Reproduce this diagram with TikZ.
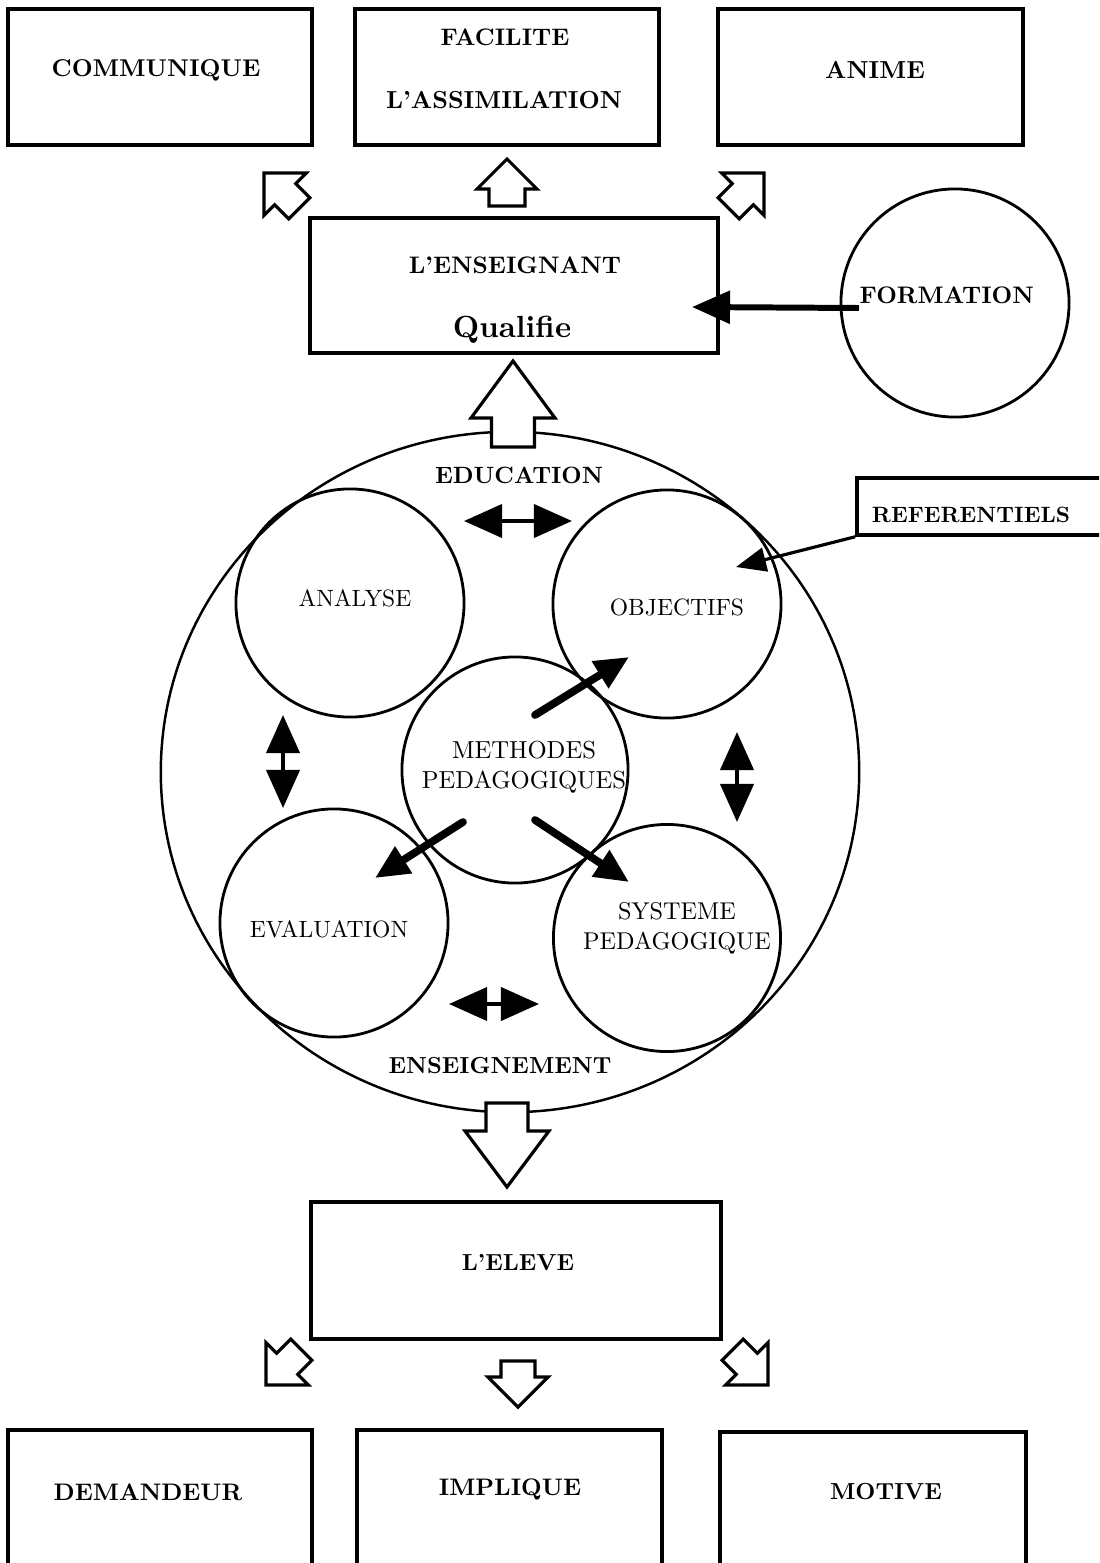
\documentclass[tikz,border=0pt]{standalone}
\usepackage{fontspec}
\setmainfont{lmroman10-regular.otf}[BoldFont=lmroman10-bold.otf]
\usetikzlibrary{arrows.meta,shapes.geometric}
\newcommand\fsz[1]{\fontsize{#1}{8.5pt}\selectfont}
\begin{document}
\begin{tikzpicture}[x=0.01cm,y=-0.01cm,
  box/.style={draw,line width=1pt,rectangle,inner sep=0pt},
  circ/.style={draw,line width=0.8pt,circle,inner sep=0pt},
  lblb/.style={font=\bfseries\fsz{6.8pt},inner sep=0pt},
  lblr/.style={font=\fsz{6.7pt},inner sep=0pt,align=center},
  dblarr/.style={line width=1.1pt,{Triangle[length=0.38cm,width=0.33cm]}-{Triangle[length=0.38cm,width=0.33cm]}},
  diagarr/.style={line width=2.2pt,line cap=round,-{Triangle[length=0.34cm,width=0.30cm]}},
  pics/blk/.style n args={4}{code={\draw[line width=0.9pt,fill=white,line join=miter]
     (0,0) -- (-#1,#2) -- (-#1,#3) -- ({-#1-#4},#3) -- ({-#1-#4},-#3) -- (-#1,-#3) -- (-#1,-#2) -- cycle;}}
]
\useasboundingbox (0,0) rectangle (1099,1563);
\fill[white] (0,0) rectangle (1099,1563);
\clip (0,0) rectangle (1099,1563);

% top boxes
\node[box,minimum width=3.04cm,minimum height=1.36cm] (bcom) at (160,77) {};
\node[box,minimum width=3.04cm,minimum height=1.36cm] (bfac) at (507,77) {};
\node[box,minimum width=3.05cm,minimum height=1.36cm] (bani) at (870.5,77) {};
\node[lblb,font=\bfseries\fsz{6.9pt}] (tcom) at (156,70) {COMMUNIQUE};
\node[lblb] (tfac1) at (505,37) {FACILITE};
\node[lblb,font=\bfseries\fsz{7pt}] (tfac2) at (504,100) {L'ASSIMILATION};
\node[lblb,font=\bfseries\fsz{7pt}] (tani) at (875,70) {ANIME};

% teacher
\node[box,minimum width=4.08cm,minimum height=1.35cm] (bens) at (514,285.5) {};
\node[lblb] (tens) at (515,265) {L'ENSEIGNANT};
\node[lblb,font=\bfseries\fsz{8.7pt}] (tqua) at (512,330) {Qualifie};

% formation
\node[circ,minimum size=2.28cm] (cfor) at (955,303) {};
\node[lblb,anchor=west] (tfor) at (859,295) {FORMATION};
\coordinate (fs) at (859,308);
\coordinate (ft) at (692,307);
\draw[line width=1.7pt,-{Triangle[length=0.38cm,width=0.32cm]}] (fs) -- (ft);

% big circle
\node[draw,ellipse,line width=0.7pt,inner sep=0pt,minimum width=6.98cm,minimum height=6.80cm] (big) at (510,772) {};
\node[lblb,font=\bfseries\fsz{6.7pt}] (tedu) at (519,475) {EDUCATION};
\node[lblb,font=\bfseries\fsz{6.6pt}] (tenm) at (500,1066) {ENSEIGNEMENT};

% inner circles
\node[circ,minimum size=2.28cm] (can) at (350,603) {};
\node[circ,minimum size=2.28cm] (cob) at (667,604) {};
\node[circ,minimum size=2.26cm] (cme) at (515,770) {};
\node[circ,minimum size=2.28cm] (cev) at (334,923) {};
\node[circ,minimum size=2.27cm] (csy) at (667,938) {};
\node[lblr] (tan) at (355,598) {ANALYSE};
\node[lblr] (tob) at (677,607) {OBJECTIFS};
\node[lblr,font=\fsz{7pt}] (tme) at (524,767) {METHODES\\PEDAGOGIQUES};
\node[lblr] (tev) at (329,929) {EVALUATION};
\node[lblr,font=\fsz{6.9pt}] (tsy) at (677,928) {SYSTEME\\PEDAGOGIQUE};

% referentiels
\node[box,minimum width=2.63cm,minimum height=0.57cm] (bref) at (988.5,506.5) {};
\node[lblb,font=\bfseries\fsz{6.3pt}] (tref) at (971,515) {REFERENTIELS};
\coordinate (rt) at (736,567);
\draw[line width=0.9pt,-{Triangle[length=0.30cm,width=0.24cm]}] (bref.south west) -- (rt);

% double arrows
\coordinate (d1a) at (464,521); \coordinate (d1b) at (572,521);
\coordinate (d2a) at (449,1004); \coordinate (d2b) at (539,1004);
\coordinate (d3a) at (283,715); \coordinate (d3b) at (283,808);
\coordinate (d4a) at (737,732); \coordinate (d4b) at (737,822);
\draw[dblarr] (d1a) -- (d1b);
\draw[dblarr] (d2a) -- (d2b);
\draw[dblarr] (d3a) -- (d3b);
\draw[dblarr] (d4a) -- (d4b);

% diagonal arrows from methodes
\coordinate (m1s) at (535,715); \coordinate (m1t) at (629,657);
\coordinate (m2s) at (463,822); \coordinate (m2t) at (375,878);
\coordinate (m3s) at (535,820); \coordinate (m3t) at (629,882);
\draw[diagarr] (m1s) -- (m1t);
\draw[diagarr] (m2s) -- (m2t);
\draw[diagarr] (m3s) -- (m3t);

% block arrows
\pic[rotate=135] at (264,173) {blk={30}{30}{15}{20}};
\pic[rotate=90] at (507,159) {blk={30}{30}{18}{17}};
\pic[rotate=45] at (764,173) {blk={30}{30}{15}{20}};
\pic[rotate=90] at (513,361) {blk={57}{42}{21.5}{29}};
\pic[rotate=-90] at (507,1187) {blk={56}{42}{21}{28}};
\pic[rotate=-135] at (266,1385) {blk={30}{30}{15}{20}};
\pic[rotate=-90] at (518,1407) {blk={30}{30}{17}{16}};
\pic[rotate=-45] at (768,1385) {blk={30}{30}{15}{20}};

% eleve
\node[box,minimum width=4.10cm,minimum height=1.37cm] (bele) at (516,1270.5) {};
\node[lblb,font=\bfseries\fsz{6.6pt}] (tele) at (518,1263) {L'ELEVE};

% bottom boxes
\node[box,minimum width=3.04cm,minimum height=1.70cm] (bdem) at (160,1515) {};
\node[box,minimum width=3.05cm,minimum height=1.70cm] (bimp) at (509.5,1515) {};
\node[box,minimum width=3.06cm,minimum height=1.68cm] (bmot) at (873,1516) {};
\node[lblb] (tdem) at (148,1492) {DEMANDEUR};
\node[lblb] (timp) at (510,1489) {IMPLIQUE};
\node[lblb,font=\bfseries\fsz{6.6pt}] (tmot) at (886,1492) {MOTIVE};
\end{tikzpicture}
\end{document}
